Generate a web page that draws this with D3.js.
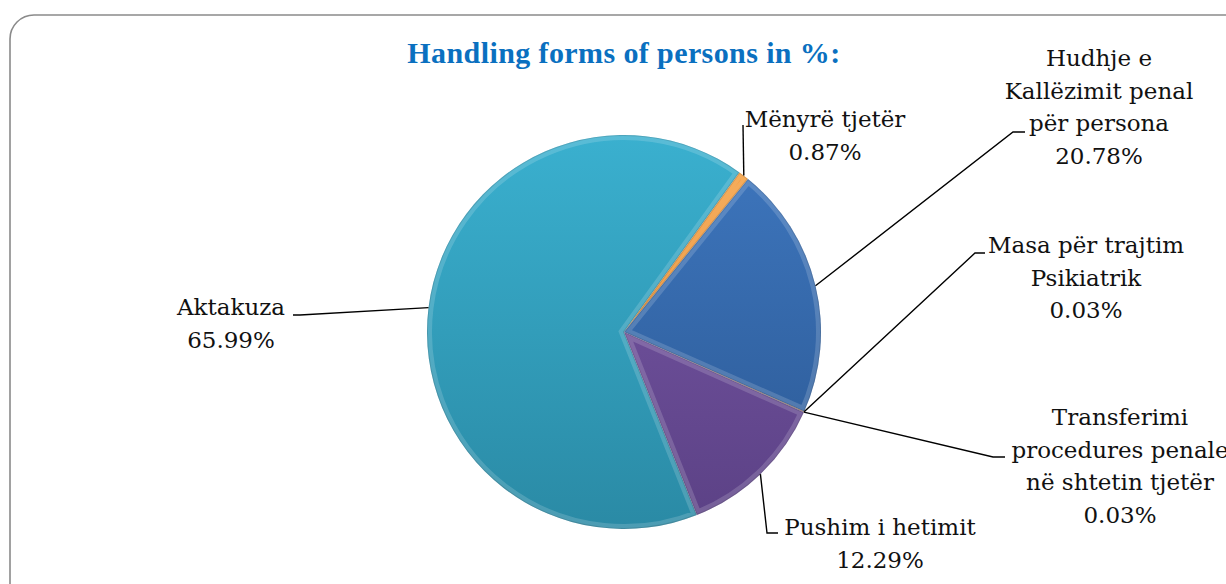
<!DOCTYPE html>
<html>
<head>
<meta charset="utf-8">
<script src="https://cdn.jsdelivr.net/npm/d3@7"></script>
<style>
  body { margin: 0; background: #fff; }
  svg { display: block; }
</style>
</head>
<body>
<div id="chart"></div>
<script>
const W = 1226;
const H = 584;

const title = "Handling forms of persons in %:";

const categories = ['Aktakuza', 'Mënyrë tjetër', 'Hudhje e Kallëzimit penal për persona',
  'Masa për trajtim Psikiatrik', 'Transferimi procedures penale në shtetin tjetër', 'Pushim i hetimit'];
const values = [65.99, 0.87, 20.78, 0.03, 0.03, 12.29];
const labelLines = [
  ['Aktakuza'],
  ['Mënyrë tjetër'],
  ['Hudhje e', 'Kallëzimit penal', 'për persona'],
  ['Masa për trajtim', 'Psikiatrik'],
  ['Transferimi', 'procedures penale', 'në shtetin tjetër'],
  ['Pushim i hetimit']
];

// light (top) / dark (bottom) shade per slice
const lightColors = ['#3ab0cf', '#f7a040', '#3e77bf', '#b04a45', '#8ba840', '#7a59a8'];
const darkColors = ['#2a8aa5', '#dc7a16', '#2b5893', '#8c3632', '#6d8a2c', '#5b4185'];

// label placement: text centre, first baseline, leader elbow and end
const labelLayout = [
  { x: 231, y: 315, pts: [[300, 315], [293, 315]] },
  { x: 825, y: 127, pts: [[743, 125]] },
  { x: 1099, y: 66, pts: [[1013, 132], [1025, 132]] },
  { x: 1086, y: 253, pts: [[975, 253], [985, 253]] },
  { x: 1120, y: 425, pts: [[993, 457], [1005, 457]] },
  { x: 880, y: 535, pts: [[767, 533], [778, 533]] }
];
const lineH = 32.5;

const cx = 624, cy = 332, r = 197;

const svg = d3.select("#chart")
  .append("svg")
  .attr("width", W)
  .attr("height", H);

// rounded frame
svg.append("rect")
  .attr("x", 10)
  .attr("y", 15)
  .attr("width", 1280)
  .attr("height", 640)
  .attr("rx", 24)
  .attr("fill", "#fff")
  .attr("stroke", "#8a8a8a")
  .attr("stroke-width", 1.6);

svg.append("text")
  .text(title)
  .attr("x", cx)
  .attr("y", 63)
  .attr("text-anchor", "middle")
  .attr("font-family", "'Liberation Serif', serif")
  .attr("font-weight", "bold")
  .attr("font-size", 30)
  .attr("letter-spacing", 0.4)
  .attr("fill", "#0a70c0");

const data = categories.map((c, i) => ({ name: c, value: values[i], lines: labelLines[i] }));

const pie = d3.pie()
  .value(d => d.value)
  .sort(null)
  .startAngle(158.3 * Math.PI / 180)
  .endAngle((158.3 + 360) * Math.PI / 180);

const arcs = pie(data);
const arc = d3.arc().innerRadius(0).outerRadius(r);

const defs = svg.append("defs");

arcs.forEach((a, i) => {
  const g = defs.append("linearGradient")
    .attr("id", "grad" + i)
    .attr("gradientUnits", "userSpaceOnUse")
    .attr("x1", 0).attr("y1", -r)
    .attr("x2", 0).attr("y2", r);
  g.append("stop").attr("offset", "0%").attr("stop-color", lightColors[i]);
  g.append("stop").attr("offset", "100%").attr("stop-color", darkColors[i]);

  defs.append("clipPath")
    .attr("id", "clip" + i)
    .append("path")
    .attr("d", arc(a));
});

const pieG = svg.append("g").attr("transform", `translate(${cx},${cy})`);

pieG.selectAll("path.slice")
  .data(arcs)
  .enter()
  .append("path")
  .attr("class", "slice")
  .attr("d", arc)
  .attr("fill", (d, i) => `url(#grad${i})`);

// soft bevel along slice edges
arcs.forEach((a, i) => {
  pieG.append("path")
    .attr("d", arc(a))
    .attr("clip-path", `url(#clip${i})`)
    .attr("fill", "none")
    .attr("stroke", "#ffffff")
    .attr("stroke-opacity", 0.16)
    .attr("stroke-width", 10);
  pieG.append("path")
    .attr("d", arc(a))
    .attr("clip-path", `url(#clip${i})`)
    .attr("fill", "none")
    .attr("stroke", "#000")
    .attr("stroke-opacity", 0.12)
    .attr("stroke-width", 2);
});

// leader lines
const edge = d3.arc().innerRadius(r).outerRadius(r);
svg.append("g")
  .selectAll("path")
  .data(arcs)
  .enter()
  .append("path")
  .attr("fill", "none")
  .attr("stroke", "#000")
  .attr("stroke-width", 1.4)
  .attr("d", (d, i) => {
    const c = edge.centroid(d);
    const pts = [[c[0] + cx, c[1] + cy]].concat(labelLayout[i].pts);
    return d3.line()(pts);
  });

// labels
const fmt = d3.format(".2f");
const lbl = svg.append("g")
  .selectAll("text")
  .data(arcs)
  .enter()
  .append("text")
  .attr("font-family", "'DejaVu Serif', serif")
  .attr("font-size", 23)
  .attr("fill", "#111")
  .attr("text-anchor", "middle");

lbl.each(function(d, i) {
  const t = d3.select(this);
  const lay = labelLayout[i];
  const lines = d.data.lines.concat([fmt(d.data.value) + "%"]);
  lines.forEach((s, k) => {
    t.append("tspan")
      .attr("x", lay.x)
      .attr("y", lay.y + k * lineH)
      .text(s);
  });
});
</script>
</body>
</html>
